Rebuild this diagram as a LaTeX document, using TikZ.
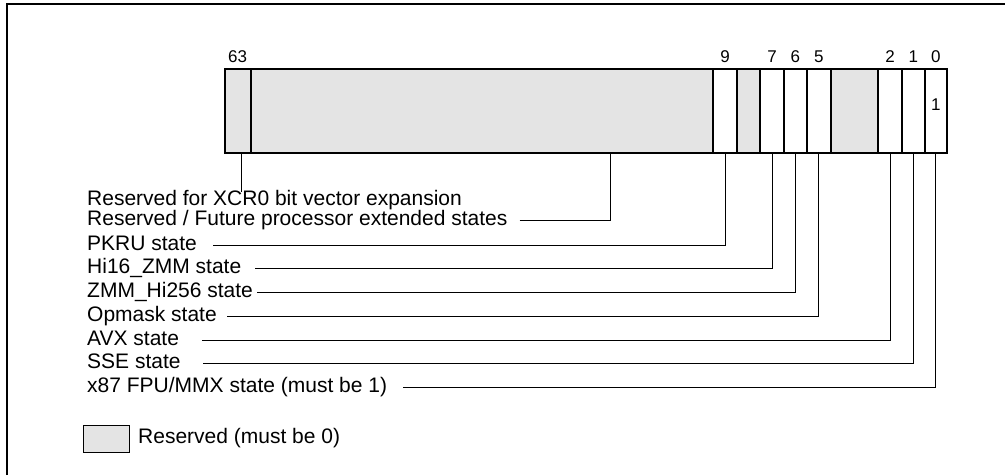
\documentclass[tikz,border=0pt]{standalone}
\usepackage[RGB]{xcolor}
\usepackage{fontspec}
\setmainfont{Liberation Sans}
\usetikzlibrary{positioning}
\definecolor{R}{RGB}{228,228,228}
\tikzset{
  cellbox/.style={draw, line width=1.7pt, inner sep=0, minimum height=84pt},
  bitnum/.style={inner sep=0, font=\fontsize{17}{19}\selectfont},
  lbl/.style={anchor=base west, inner sep=0, text height=15pt, text depth=5pt, font=\fontsize{21}{24}\selectfont},
  wire/.style={line width=1pt}
}
\newcommand{\bitcell}[4]{\node[cellbox, fill=#4, minimum width={(#3-#2)*1pt}] (#1) at ({(#2+#3)/2},110.7) {};}
\newcommand{\bitlabel}[2]{\node[bitnum, above=5pt of #1] (n#1) {#2};}

\begin{document}
\begin{tikzpicture}[x=1pt,y=-1pt]
\useasboundingbox (0,0) rectangle (1005,475);
\draw[line width=2pt] (7,475) -- (7,4) -- (1005,4);
\bitcell{b63}{224.7}{250.7}{R}\bitcell{bres}{250.7}{712.7}{R}\bitcell{b9}{712.7}{737.3}{white}
\bitcell{b8}{737.3}{760}{R}\bitcell{b7}{760}{784}{white}\bitcell{b6}{784}{806.7}{white}
\bitcell{b5}{806.7}{831}{white}\bitcell{bfour}{831}{878.3}{R}\bitcell{b2}{878.3}{901.7}{white}
\bitcell{b1}{901.7}{925}{white}\bitcell{b0}{925}{946.7}{white}
\bitlabel{b63}{63}\bitlabel{b9}{9}\bitlabel{b7}{7}\bitlabel{b6}{6}\bitlabel{b5}{5}\bitlabel{b2}{2}\bitlabel{b1}{1}\bitlabel{b0}{0}
\node[bitnum] (one) at ([yshift=5.7pt]b0.center) {1};
\coordinate (futbit) at (610,153.5);
\node[lbl] (xcr) at (87,205) {Reserved for XCR0 bit vector expansion};
\node[lbl] (future) at (87,225.5) {Reserved / Future processor extended states};
\node[lbl] (pkru) at (87,250) {PKRU state};
\node[lbl] (hisixteen) at (87,273.5) {Hi16\_ZMM state};
\node[lbl] (zmmhi) at (87,297) {ZMM\_Hi256 state};
\node[lbl] (opmask) at (87,321) {Opmask state};
\node[lbl] (avx) at (87,345) {AVX state};
\node[lbl] (sse) at (87,368.5) {SSE state};
\node[lbl] (xfpu) at (87,392.5) {x87 FPU/MMX state (must be 1)};
\draw[wire] ([xshift=3.5pt]b63.south) -- ([xshift=3.5pt,yshift=-2pt]b63.south |- xcr.north);
\draw[wire] ([xshift=12pt]future.east) -| (futbit);
\foreach \l/\b/\g in {pkru/b9/16, hisixteen/b7/14, zmmhi/b6/4, opmask/b5/10.5, avx/b2/22.6, sse/b1/22.6, xfpu/b0/16}
  \draw[wire] ([xshift=\g pt]\l.east) -| (\b.south);
\node[draw, line width=1pt, fill=R, minimum width=45.7pt, minimum height=27.7pt, inner sep=0] (legbox) at (106.2,438.9) {};
\node[lbl] (legtext) at (138,443) {Reserved (must be 0)};
\end{tikzpicture}
\end{document}
